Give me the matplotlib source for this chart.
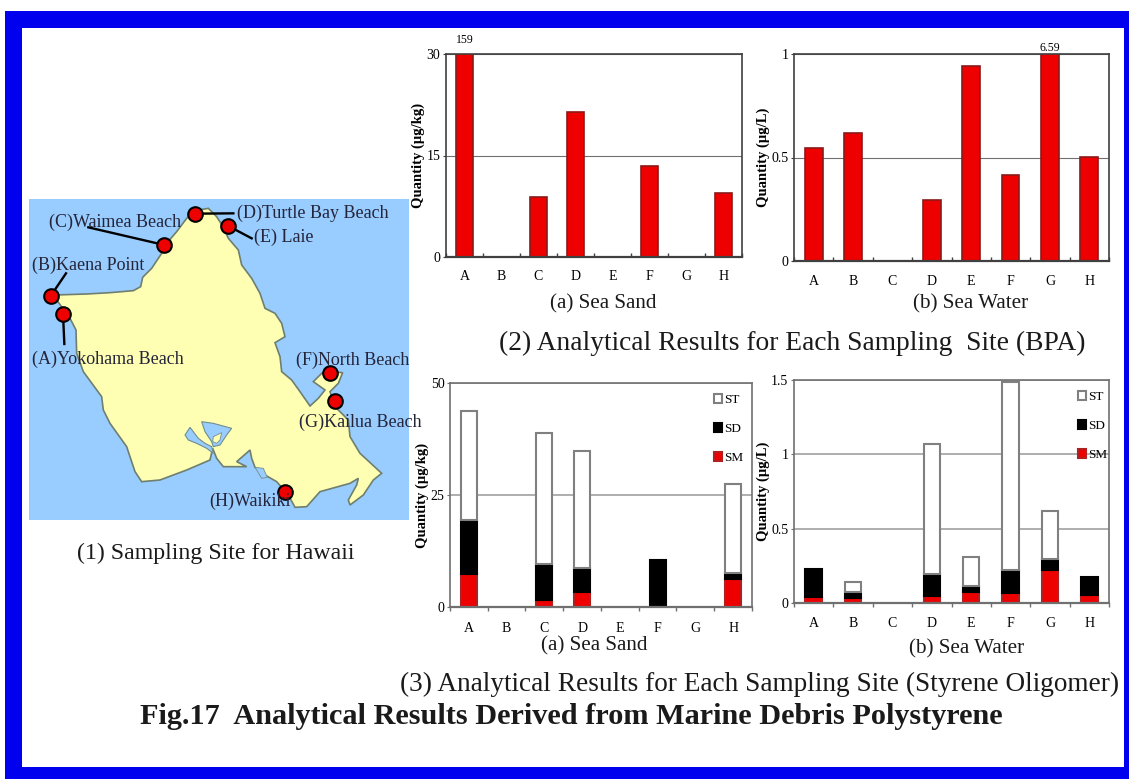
import numpy as np
import matplotlib
matplotlib.use("Agg")
import matplotlib.pyplot as plt
from matplotlib.patches import Rectangle, Polygon

plt.rcParams['font.family'] = ['Liberation Serif', 'DejaVu Serif']

# chart data
sites = ['A', 'B', 'C', 'D', 'E', 'F', 'G', 'H']
bpa_sand = [159, 0, 8.8, 21.5, 0, 13.4, 0, 9.5]
bpa_water = [0.546, 0.62, 0, 0.293, 0.942, 0.414, 6.59, 0.504]

sand_sm = [7.4, 0, 1.6, 3.3, 0, 0, 0, 6.2]
sand_sd = [12.1, 0, 8.0, 5.5, 0, 10.6, 0, 1.3]
sand_st = [24.3, 0, 29.3, 26.1, 0, 0, 0, 19.9]

water_sm = [0.043, 0.036, 0, 0.045, 0.076, 0.065, 0.224, 0.056]
water_sd = [0.185, 0.038, 0, 0.150, 0.040, 0.159, 0.069, 0.121]
water_st = [0, 0.069, 0, 0.877, 0.193, 1.265, 0.327, 0]

# map data, read in pixels of the 3x crop of the map
coast_x = [105, 200, 270, 340, 362, 368, 395, 425, 440, 470, 500, 525, 565, 590, 612, 625, 655, 665, 695, 720,
           735, 765, 785, 795, 765, 780, 785, 815, 840, 870, 895, 915, 880, 905, 930, 968, 955, 930, 945, 985,
           990, 1020, 1085, 1060, 1030, 990, 985, 1010, 1015, 990, 900, 860, 825, 805, 770, 735, 705, 695, 690,
           650, 680, 610, 590, 578, 570, 500, 420, 365, 345, 320, 270, 250, 245, 190, 170, 168, 150, 110]
coast_y = [315, 312, 308, 302, 290, 262, 235, 190, 160, 125, 85, 62, 55, 80, 115, 145, 180, 225, 265, 310,
           355, 370, 400, 440, 458, 500, 545, 570, 605, 648, 625, 600, 575, 550, 545, 548, 580, 605, 650, 690,
           740, 790, 850, 870, 915, 945, 930, 885, 865, 880, 905, 950, 952, 915, 875, 855, 832, 805, 780,
           815, 830, 830, 805, 775, 810, 840, 870, 875, 845, 770, 700, 660, 620, 545, 490, 420, 385, 330]
loch_w_x = [495, 510, 535, 555, 575, 580, 560, 530, 505]
loch_w_y = [735, 712, 745, 760, 770, 790, 775, 760, 750]
loch_e_x = [545, 580, 635, 620, 600, 580, 575, 555]
loch_e_y = [695, 700, 715, 735, 765, 770, 755, 725]
ford_x = [580, 605, 600, 590, 578]
ford_y = [740, 728, 750, 760, 755]
alawai_x = [705, 730, 742, 725]
alawai_y = [832, 835, 862, 865]

site_x = [129, 92, 433, 525, 625, 930, 945, 795]
site_y = [371, 318, 165, 71, 108, 548, 632, 906]
leader_x = [133, 138, 205, 640, 695, None, None, None]
leader_y = [462, 250, 112, 70, 145, None, None, None]
site_labels = ['(A)Yokohama Beach', '(B)Kaena Point', '(C)Waimea Beach', '(D)Turtle Bay Beach',
               '(E) Laie', '(F)North Beach', '(G)Kailua Beach', '(H)Waikiki']
label_x = [35, 35, 87, 650, 703, 828, 838, 568]
label_y = [508, 227, 98, 70, 142, 512, 697, 933]

W, H = 1129, 779
fig = plt.figure(figsize=(W / 100, H / 100), dpi=100, facecolor='white')

# whole figure layer in pixels, for the frame, the map and the captions
bg = fig.add_axes([0, 0, 1, 1])
bg.set_xlim(0, W)
bg.set_ylim(H, 0)
bg.axis('off')
bg.add_patch(Rectangle((5, 11), W - 5, H - 11, facecolor='#0000ee', edgecolor='none'))
bg.add_patch(Rectangle((21.5, 27.5), 1124 - 21.5, 767 - 27.5, facecolor='white', edgecolor='none'))
bg.add_patch(Rectangle((29, 199), 380, 321, facecolor='#99ccff', edgecolor='none'))


def to_px(x, y):
    return np.asarray(x, float) / 3 + 20, np.asarray(y, float) / 3 + 190


def shape(x, y, **kw):
    px, py = to_px(x, y)
    bg.add_patch(Polygon(np.column_stack([px, py]), closed=True, **kw))


shape(coast_x, coast_y, facecolor='#ffffb3', edgecolor='#6f7f6f', linewidth=1.2)
shape(loch_w_x, loch_w_y, facecolor='#99ccff', edgecolor='#6f8f8f', linewidth=0.8)
shape(loch_e_x, loch_e_y, facecolor='#99ccff', edgecolor='#6f8f8f', linewidth=0.8)
shape(ford_x, ford_y, facecolor='#ffffb3', edgecolor='#6f8f8f', linewidth=0.6)
shape(alawai_x, alawai_y, facecolor='#99ccff', edgecolor='#6f8f8f', linewidth=0.6)

for i in range(len(site_x)):
    sx, sy = to_px(site_x[i], site_y[i])
    if leader_x[i] is not None:
        lx, ly = to_px(leader_x[i], leader_y[i])
        bg.plot([sx, lx], [sy, ly], color='black', lw=1.7, zorder=3)
    bg.plot(sx, sy, 'o', ms=10.5, mfc='#ee0000', mec='black', mew=1.5, zorder=4)
    tx, ty = to_px(label_x[i], label_y[i])
    bg.text(tx, ty, site_labels[i], fontsize=13, color='#25253a', ha='left', va='center', zorder=5)


def caption(x, y, s, size, **kw):
    bg.text(x, y, s, fontsize=size, color='#1a1a1a', ha='center', va='center', **kw)


caption(216, 553, '(1) Sampling Site for Hawaii', 17.2)
caption(603, 304, '(a) Sea Sand', 15.2)
caption(971, 304, '(b) Sea Water', 15.2)
caption(792, 343, '(2) Analytical Results for Each Sampling  Site (BPA)', 19.8)
caption(594, 646, '(a) Sea Sand', 15.2)
caption(967, 649, '(b) Sea Water', 15.2)
caption(760, 684, '(3) Analytical Results for Each Sampling Site (Styrene Oligomer)', 19.6)
caption(571, 716, 'Fig.17  Analytical Results Derived from Marine Debris Polystyrene', 21.8, fontweight='bold')


def make_axes(x0, x1, y0, y1, ymax, ticks, ticklabels, ylabel, frame, tickdir, grid, grid_lw, pad):
    ax = fig.add_axes([x0 / W, 1 - y1 / H, (x1 - x0) / W, (y1 - y0) / H], facecolor='none')
    ax.set_xlim(0, 8)
    ax.set_ylim(0, ymax)
    ax.set_yticks(ticks)
    ax.set_yticklabels(ticklabels, fontsize=10)
    ax.set_xticks(np.arange(0, 9))
    ax.set_xticklabels([])
    ax.tick_params(axis='x', direction=tickdir, length=3, color=frame, width=1)
    ax.tick_params(axis='y', direction='out', length=2, color=frame, pad=2)
    ax.set_xticks(np.arange(8) + 0.5, sites, minor=True, fontsize=10)
    ax.tick_params(axis='x', which='minor', length=0, pad=pad)
    for s in ax.spines.values():
        s.set_color(frame)
        s.set_linewidth(1.2)
    ax.spines['bottom'].set_linewidth(1.6)
    ax.grid(axis='y', color=grid, lw=grid_lw)
    ax.set_axisbelow(True)
    ax.set_ylabel(ylabel, fontsize=10.5, fontweight='bold', labelpad=1)
    return ax


def stacked(ax, sm, sd, st, anchor):
    x = np.arange(8) + 0.5
    sm, sd, st = np.array(sm), np.array(sd), np.array(st)
    h = []
    bottom = np.zeros(8)
    styles = [(sm, '#ee0000', '#b02020', 'SM'), (sd, 'black', 'black', 'SD'), (st, 'white', '#808080', 'ST')]
    for vals, fc, ec, name in styles:
        m = vals > 0
        b = ax.bar(x[m], vals[m], 0.42, bottom=bottom[m], color=fc, edgecolor=ec, linewidth=1.5, label=name)
        h.append(b)
        bottom = bottom + vals
    ax.legend(handles=h[::-1], loc='upper right', bbox_to_anchor=anchor, frameon=False, fontsize=9.5,
              labelspacing=1.28, handlelength=0.6, handleheight=0.6, handletextpad=0.15, borderaxespad=0.5)


# (2) BPA
ax1 = make_axes(446, 742, 54, 257, 30, [0, 15, 30], ['0', '15', '30'], 'Quantity (µg/kg)', '#404040', 'in',
                '#707070', 0.8, 9.5)
ax1.bar(np.arange(8) + 0.5, bpa_sand, 0.45, color='#ee0000', edgecolor='#8b1a1a', linewidth=1.2)
ax1.annotate('159', (0.5, 30), xytext=(0, 6), textcoords='offset points', fontsize=8.5, ha='center', va='bottom')

ax2 = make_axes(794, 1109, 54, 261, 1, [0, 0.5, 1], ['0', '0.5', '1'], 'Quantity (µg/L)', '#404040', 'in',
                '#707070', 0.8, 10)
ax2.bar(np.arange(8) + 0.5, bpa_water, 0.45, color='#ee0000', edgecolor='#8b1a1a', linewidth=1.2)
ax2.text(6.5, 1.0, '6.59', fontsize=8.5, ha='center', va='bottom')

# (3) styrene oligomer
ax3 = make_axes(450, 752, 383, 607, 50, [0, 25, 50], ['0', '25', '50'], 'Quantity (µg/kg)', '#707070', 'out',
                '#a8a8a8', 1.3, 11)
stacked(ax3, sand_sm, sand_sd, sand_st, (1.01, 1.003))

ax4 = make_axes(794, 1109, 380, 603, 1.5, [0, 0.5, 1, 1.5], ['0', '0.5', '1', '1.5'], 'Quantity (µg/L)',
                '#707070', 'out', '#a8a8a8', 1.3, 10)
stacked(ax4, water_sm, water_sd, water_st, (1.032, 1.003))

fig.savefig('out.png', dpi=100)
